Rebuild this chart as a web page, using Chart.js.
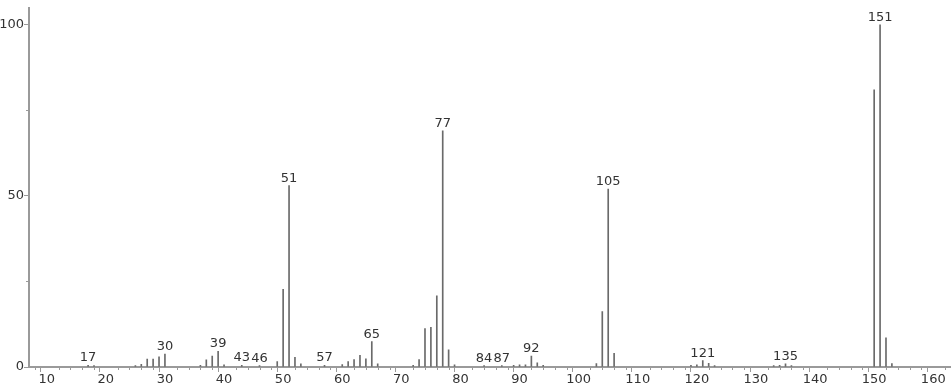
<!DOCTYPE html>
<html>
<head>
<meta charset="utf-8">
<script src="https://cdn.jsdelivr.net/npm/chart.js@4"></script>
<style>
  html, body { margin: 0; padding: 0; background: #fff; }
</style>
</head>
<body>
<canvas id="spectrum" width="951" height="389"></canvas>
<script>
// m/z values and relative intensities
const masses = [17, 18, 25, 26, 27, 28, 29, 30, 36, 37, 38, 39, 40, 43, 46, 49, 50, 51, 52, 53,
  57, 60, 61, 62, 63, 64, 65, 66, 72, 73, 74, 75, 76, 77, 78, 79, 84, 87, 89, 90, 91, 92, 93, 94,
  103, 104, 105, 106, 119, 120, 121, 122, 123, 133, 134, 135, 136, 150, 151, 152, 153];
const intensities = [0.5, 0.4, 0.4, 0.8, 2.3, 2.3, 3.0, 3.8, 0.5, 2.1, 3.2, 4.6, 0.6, 0.5, 0.4, 1.6, 22.7, 53, 2.8, 0.9,
  0.5, 0.7, 1.6, 2.2, 3.4, 2.4, 7.4, 0.9, 0.5, 2.2, 11.2, 11.6, 20.8, 69, 5, 0.6, 0.4, 0.4, 0.5, 0.6, 0.6, 3.2, 1.2, 0.5,
  1, 16.2, 52, 4, 0.5, 0.6, 1.9, 1.1, 0.4, 0.4, 0.5, 0.9, 0.4, 81, 100, 8.5, 1];
const labeledPeaks = [17, 30, 39, 43, 46, 51, 57, 65, 77, 84, 87, 92, 105, 121, 135, 151];
const xTicks = [];
for (let v = 8; v <= 162; v += 2) xTicks.push(v);
const yTicks = [0, 25, 50, 75, 100];

const font = { family: "'DejaVu Sans', sans-serif", size: 13 };
const axisColor = '#9a9a9a';

const peakLabels = {
  id: 'peakLabels',
  afterDatasetsDraw(chart) {
    const ctx = chart.ctx, xs = chart.scales.x, ys = chart.scales.y;
    ctx.save();
    ctx.font = font.size + 'px ' + font.family;
    ctx.fillStyle = '#333';
    ctx.textAlign = 'center';
    ctx.textBaseline = 'alphabetic';
    labeledPeaks.forEach(m => {
      const i = masses.indexOf(m);
      ctx.fillText(String(m), xs.getPixelForValue(m), ys.getPixelForValue(intensities[i]) - 4);
    });
    ctx.restore();
  }
};

const minorTicks = {
  id: 'minorTicks',
  afterDraw(chart) {
    const ctx = chart.ctx, xs = chart.scales.x, ys = chart.scales.y;
    const a = chart.chartArea;
    ctx.save();
    ctx.strokeStyle = axisColor;
    ctx.lineWidth = 1;
    ctx.beginPath();
    xTicks.filter(v => v % 10 !== 0).forEach(v => {
      const x = Math.round(xs.getPixelForValue(v)) + 0.5;
      ctx.moveTo(x, a.bottom);
      ctx.lineTo(x, a.bottom + 3);
    });
    yTicks.filter(v => v % 50 !== 0).forEach(v => {
      const y = Math.round(ys.getPixelForValue(v)) + 0.5;
      ctx.moveTo(a.left - 3, y);
      ctx.lineTo(a.left, y);
    });
    ctx.stroke();
    ctx.restore();
  }
};

new Chart(document.getElementById('spectrum'), {
  type: 'bar',
  data: {
    datasets: [{
      data: masses.map((m, i) => ({ x: m, y: intensities[i] })),
      backgroundColor: '#6a6a6a',
      borderWidth: 0,
      barThickness: 1
    }]
  },
  options: {
    responsive: false,
    animation: false,
    layout: { padding: { top: 2, right: 0, left: 0, bottom: 0 } },
    plugins: { legend: { display: false }, tooltip: { enabled: false } },
    scales: {
      x: {
        type: 'linear',
        min: 7,
        max: 163,
        offset: false,
        afterBuildTicks: s => { s.ticks = xTicks.map(v => ({ value: v })); },
        afterFit: s => { s.height = 22; },
        border: { color: axisColor, width: 2 },
        grid: {
          drawOnChartArea: false,
          tickLength: 5,
          tickColor: c => (c.tick && c.tick.value % 10 === 0) ? axisColor : 'rgba(0,0,0,0)'
        },
        ticks: {
          autoSkip: false,
          maxRotation: 0,
          padding: 0,
          color: '#333',
          font: font,
          callback: v => v % 10 === 0 ? v : ''
        }
      },
      y: {
        min: 0,
        max: 105,
        afterBuildTicks: s => { s.ticks = yTicks.map(v => ({ value: v })); },
        afterFit: s => { s.width = 29; },
        border: { color: axisColor, width: 2 },
        grid: {
          drawOnChartArea: false,
          tickLength: 5,
          tickColor: c => (c.tick && c.tick.value % 50 === 0) ? axisColor : 'rgba(0,0,0,0)'
        },
        ticks: {
          padding: 0,
          color: '#333',
          font: font,
          callback: v => v % 50 === 0 ? v : ''
        }
      }
    }
  },
  plugins: [peakLabels, minorTicks]
});
</script>
</body>
</html>
